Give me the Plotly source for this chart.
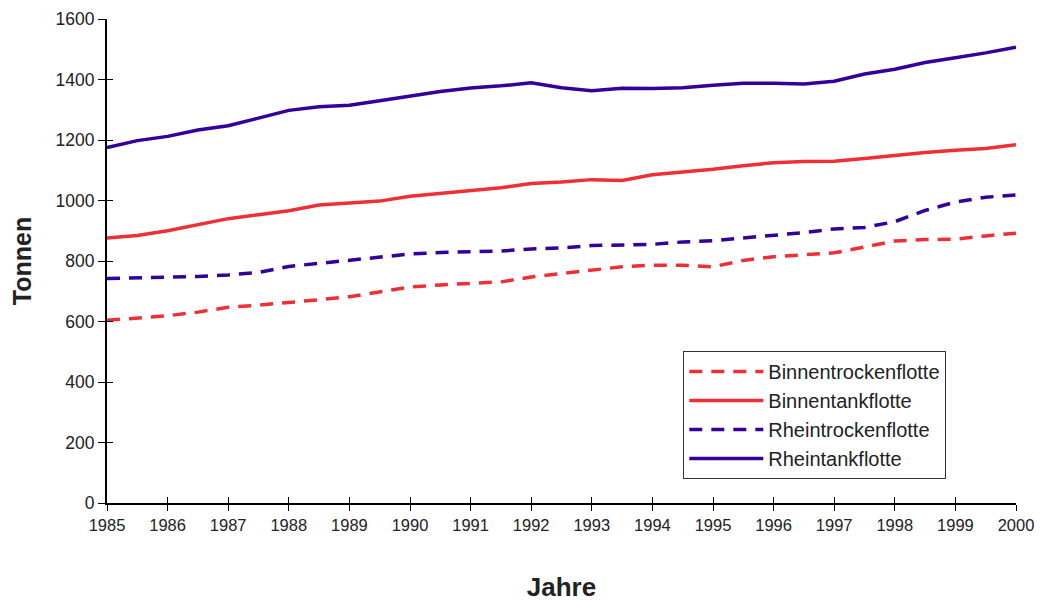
import plotly.graph_objects as go

# half-year sampling, 1985.0 ... 2000.0
jahre = [1985 + i * 0.5 for i in range(31)]
jahr_ticks = list(range(1985, 2001))
tonnen_ticks = list(range(0, 1601, 200))

binnentrocken = [604, 611, 619, 631, 647, 654, 662, 672, 682, 697,
                 714, 721, 727, 731, 747, 758, 770, 781, 786, 786,
                 781, 802, 814, 820, 827, 846, 866, 871, 872, 883, 892]
binnentank = [876, 884, 900, 920, 940, 953, 966, 985, 992, 998,
              1014, 1024, 1033, 1042, 1056, 1061, 1069, 1066, 1085, 1093,
              1103, 1115, 1125, 1129, 1130, 1139, 1150, 1159, 1166, 1172, 1184]
rheintrocken = [742, 744, 746, 749, 754, 762, 782, 792, 804, 812,
                823, 828, 830, 833, 840, 843, 851, 853, 855, 863,
                867, 876, 885, 894, 906, 911, 930, 967, 995, 1011, 1018]
rheintank = [1175, 1198, 1212, 1233, 1247, 1272, 1298, 1310, 1315, 1330,
             1346, 1360, 1372, 1379, 1389, 1373, 1363, 1371, 1370, 1373,
             1381, 1388, 1388, 1385, 1394, 1418, 1434, 1456, 1472, 1488, 1507]

RED = "#EE3036"
PURPLE = "#330099"
DASH = "13px,9px"
FONT = "Liberation Sans, Arial, sans-serif"
TEXT = "#222222"

series = [
    ("Binnentrockenflotte", binnentrocken, RED, DASH),
    ("Binnentankflotte", binnentank, RED, "solid"),
    ("Rheintrockenflotte", rheintrocken, PURPLE, DASH),
    ("Rheintankflotte", rheintank, PURPLE, "solid"),
]

fig = go.Figure()
for name, vals, colour, dash in series:
    fig.add_trace(go.Scatter(
        x=jahre, y=vals, name=name, mode="lines",
        line=dict(color=colour, width=3.5, dash=dash),
    ))

# empty trace so the overlay axes (inner half of the tick marks) get drawn
fig.add_trace(go.Scatter(x=[], y=[], xaxis="x2", yaxis="y2",
                         showlegend=False, hoverinfo="skip"))

# page body has an 8px margin, so the figure is sized to fit inside it
fig.update_layout(
    width=1036, height=595,
    paper_bgcolor="white", plot_bgcolor="white",
    font=dict(family=FONT, size=16, color=TEXT),
    margin=dict(l=99, r=28, t=11, b=99.5),
    showlegend=True,
    legend=dict(
        x=0.634, y=0.314, xanchor="left", yanchor="top",
        bgcolor="white", bordercolor="#333333", borderwidth=1,
        font=dict(size=20, family=FONT, color=TEXT),
        itemwidth=74, tracegroupgap=0,
    ),
    xaxis=dict(
        range=[1985, 2000], tickmode="array", tickvals=jahr_ticks,
        showgrid=False, zeroline=False, automargin=False,
        showline=True, linecolor="black", linewidth=2,
        ticks="outside", ticklen=6, tickcolor="black", tickwidth=1.3,
        tickfont=dict(size=16.5),
        title=dict(text="<b>Jahre</b>", font=dict(size=26, color=TEXT),
                   standoff=45),
    ),
    yaxis=dict(
        range=[0, 1600], tickmode="array", tickvals=tonnen_ticks,
        showgrid=False, zeroline=False, automargin=False,
        showline=True, linecolor="black", linewidth=2,
        ticks="outside", ticklen=7, tickcolor="black", tickwidth=1.3,
        tickfont=dict(size=17.5),
        title=dict(text="<b>Tonnen</b>", font=dict(size=25, color=TEXT),
                   standoff=23),
    ),
    xaxis2=dict(
        overlaying="x", anchor="y", side="bottom", range=[1985, 2000],
        tickmode="array", tickvals=jahr_ticks, showticklabels=False,
        showgrid=False, zeroline=False, showline=False, automargin=False,
        ticks="inside", ticklen=6, tickcolor="black", tickwidth=1.3,
    ),
    yaxis2=dict(
        overlaying="y", anchor="x", side="left", range=[0, 1600],
        tickmode="array", tickvals=tonnen_ticks, showticklabels=False,
        showgrid=False, zeroline=False, showline=False, automargin=False,
        ticks="inside", ticklen=6, tickcolor="black", tickwidth=1.3,
    ),
)

fig.write_html("out.html")
